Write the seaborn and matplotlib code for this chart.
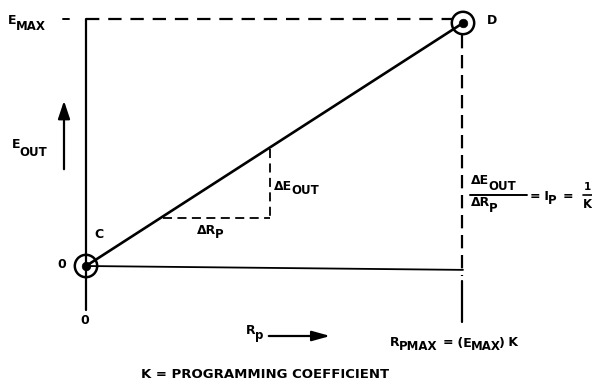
import matplotlib
matplotlib.use("Agg")
import matplotlib.pyplot as plt
import matplotlib.transforms as mtransforms
import numpy as np
import pandas as pd
import seaborn as sns

# ---- data (normalised diagram coordinates) ----
line_x = [0.0, 1.0]          # R_p from 0 to R_PMAX
line_y = [0.0, 1.0]          # E_OUT from 0 to E_MAX
point_labels = ["C", "D"]
base_x = [0.0, 1.0]          # horizontal zero line
base_y = [0.0, -0.016]

sns.set_theme(style="white")
plt.rcParams['font.family'] = ['DejaVu Sans']

W, H = 592, 384
fig = plt.figure(figsize=(W / 100, H / 100), dpi=100)
ax = fig.add_axes([0, 0, 1, 1])
ax.set_axis_off()

# pixel -> data mapping: C at (86,266), D at (463,23)
x0p, y0p, sx, sy = 86, 266, 377, 243
ax.set_xlim(-x0p / sx, (W - x0p) / sx)
ax.set_ylim((y0p - H) / sy, y0p / sy)

df = pd.DataFrame({"x": line_x, "y": line_y, "label": point_labels})
sns.lineplot(data=df, x="x", y="y", ax=ax, color="black", linewidth=1.9, legend=False)
sns.lineplot(x=base_x, y=base_y, ax=ax, color="black", linewidth=1.3, legend=False)
sns.scatterplot(data=df, x="x", y="y", ax=ax, s=260, facecolor="none",
                edgecolor="black", linewidth=1.8, legend=False, zorder=5)
sns.scatterplot(data=df, x="x", y="y", ax=ax, s=38, color="black",
                edgecolor="black", legend=False, zorder=6)

# pixel transform (origin at top-left) for annotations
pt = mtransforms.Affine2D().scale(1 / W, -1 / H).translate(0, 1) + fig.transFigure
renderer = fig.canvas.get_renderer()

def pline(xs, ys, **kw):
    ax.plot(xs, ys, transform=pt, color="black", **kw)

# left axis (solid)
pline([86, 86], [19, 310], lw=1.6)
# E_MAX dashed line
pline([86, 452], [19, 19], lw=1.6, ls=(0, (6, 4)))
pline([63, 69], [19, 19], lw=1.4)
# right vertical dashed, then solid
pline([462, 462], [35, 276], lw=1.6, ls=(0, (6, 3)))
pline([462, 462], [281, 322], lw=1.6)
# delta triangle
pline([270, 270], [149, 218], lw=1.3, ls=(0, (5, 3)))
pline([163, 270], [218, 218], lw=1.3, ls=(0, (5, 3)))
# fraction bars
pline([470, 527], [195, 195], lw=1.4)
pline([583, 592], [195, 195], lw=1.2)

# arrows
ax.annotate("", xy=(64, 98), xytext=(64, 172), xycoords=pt, textcoords=pt,
            arrowprops=dict(arrowstyle="-|>,head_length=0.9,head_width=0.3",
                            color="black", lw=1.6))
ax.annotate("", xy=(333, 336), xytext=(266, 336), xycoords=pt, textcoords=pt,
            arrowprops=dict(arrowstyle="-|>,head_length=0.9,head_width=0.25",
                            color="black", lw=1.6))

def ptext(x, y, s, size=9, ha="left", va="center"):
    return ax.text(x, y, s, transform=pt, fontsize=size, fontweight="bold",
                   ha=ha, va=va, color="black")

def seq(x, y, parts, size=9, sub_size=8.5, dy=6, gap=-1):
    """parts: list of (text, is_sub). Draw left to right at pixel x."""
    cur = x
    for s, is_sub in parts:
        t = ptext(cur, y + (dy if is_sub else 0), s, size=sub_size if is_sub else size)
        bb = t.get_window_extent(renderer=renderer)
        cur += bb.width + gap

seq(8, 21, [("E", False), ("MAX", True)], dy=5)
seq(12, 145, [("E", False), ("OUT", True)], dy=7)
ptext(57, 264, "0")
ptext(85, 321, "0", ha="center")
ptext(94, 234, "C")
ptext(487, 21, "D")
seq(274, 186, [("\u0394E", False), ("OUT", True)], dy=5)
seq(197, 230, [("\u0394R", False), ("P", True)], dy=4)
seq(471, 180, [("\u0394E", False), ("OUT", True)], dy=6)
seq(471, 203, [("\u0394R", False), ("P", True)], dy=5)
seq(530, 196, [("=", False), (" I", False), ("P", True)], dy=4)
ptext(563, 196, "=")
ptext(587, 187, "1", size=7.5, ha="center")
ptext(587, 204, "K", size=8.5, ha="center")
seq(246, 331, [("R", False), ("p", True)], dy=5)
seq(390, 342, [("R", False), ("PMAX", True)], dy=4)
seq(443, 343, [("=", False), (" (E", False), ("MAX", True), (")", False), (" K", False)], dy=4)
ptext(265, 374, "K = PROGRAMMING COEFFICIENT", size=9.5, ha="center")

fig.savefig("out.png", dpi=100)
